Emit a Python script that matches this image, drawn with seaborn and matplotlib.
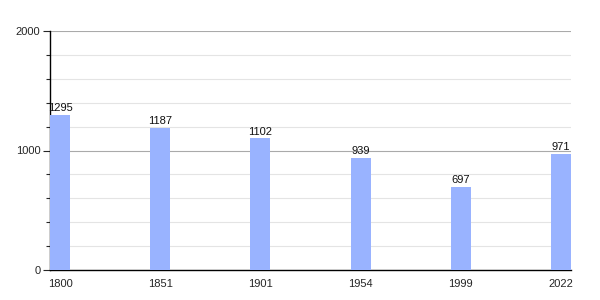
import matplotlib
matplotlib.use("Agg")
import matplotlib.pyplot as plt
import seaborn as sns
import pandas as pd
from matplotlib.ticker import MultipleLocator

years = ["1800", "1851", "1901", "1954", "1999", "2022"]
population = [1295, 1187, 1102, 939, 697, 971]

sns.set_style("white")
plt.rcParams['font.family'] = ['Liberation Sans', 'DejaVu Sans']

df = pd.DataFrame({"year": years, "pop": population})
fig = plt.figure(figsize=(6, 3), dpi=100)
ax = fig.add_axes([50/600, 30/300, 521/600, 239/300])

sns.barplot(data=df, x="year", y="pop", color="#99b3ff", width=0.2,
            saturation=1, linewidth=0, edgecolor="none", ax=ax, zorder=3)

for i, v in enumerate(population):
    ax.text(i, v + 15, str(v), ha="center", va="bottom", fontsize=8, color="#111111", zorder=4)

ax.set_xlim(-0.1, 5.1)
ax.set_ylim(0, 2000)
ax.yaxis.set_major_locator(MultipleLocator(1000))
ax.yaxis.set_minor_locator(MultipleLocator(200))
ax.grid(which="major", axis="y", color="#aaaaaa", linewidth=0.8, zorder=0)
ax.grid(which="minor", axis="y", color="#e4e4e4", linewidth=0.8, zorder=0)
ax.set_axisbelow(True)

for s in ["top", "right"]:
    ax.spines[s].set_visible(False)
ax.spines["left"].set_color("black")
ax.spines["bottom"].set_color("black")
ax.spines["left"].set_linewidth(1)
ax.spines["bottom"].set_linewidth(1)

ax.tick_params(axis="y", which="major", left=True, length=5, width=0.8, labelsize=8, pad=2)
ax.tick_params(axis="y", which="minor", left=True, length=3, width=0.8)
ax.tick_params(axis="x", bottom=False, labelsize=8, pad=3)
ax.set_xlabel("")
ax.set_ylabel("")

fig.savefig("out.png", dpi=100)
